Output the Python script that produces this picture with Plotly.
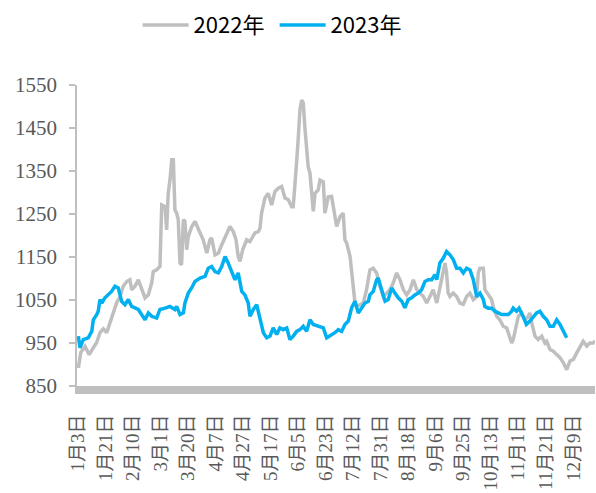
import plotly.graph_objects as go

# Trading-day position (0 = 1月3日) and price readings
day_2022 = [0.2, 1.4, 3.6, 5.7, 7.8, 9.5, 11.2, 12.9, 14.6, 16.3, 18.0, 19.7, 21.4, 23.0, 24.8, 26.4, 27.3, 29.0,
            30.7, 32.4, 34.1, 35.8, 37.5, 38.3, 40.0, 41.7, 42.6, 44.3, 45.1, 45.9, 46.8, 47.7, 48.5, 49.3, 50.2,
            51.0, 51.9, 52.7, 53.6, 54.4, 55.3, 56.1, 57.9, 59.5, 61.2, 62.1, 63.7, 65.5, 67.1, 68.0, 69.7, 71.4,
            73.1, 75.6, 77.3, 79.0, 80.4, 81.5, 82.4, 83.8, 85.8, 87.5, 90.0, 91.7, 92.6, 93.4, 95.1, 96.8, 98.5,
            100.2, 101.9, 103.6, 105.3, 107.0, 108.7, 109.5, 110.4, 111.3, 112.1, 112.9, 113.8, 114.6, 115.5,
            116.4, 117.1, 118.0, 118.9, 119.7, 120.6, 122.2, 123.1, 124.8, 125.6, 127.3, 129.0, 130.7, 131.6,
            133.3, 134.9, 135.8, 136.7, 138.4, 139.2, 140.0, 140.9, 141.8, 143.4, 145.1, 146.8, 148.5, 150.2,
            151.9, 153.6, 155.3, 157.0, 158.7, 160.4, 162.1, 163.8, 165.5, 167.2, 168.9, 170.6, 172.3, 174.0,
            175.7, 177.4, 179.0, 180.7, 182.5, 184.1, 185.8, 186.7, 187.5, 188.3, 189.2, 190.9, 192.6, 194.3,
            196.0, 197.7, 199.4, 201.1, 202.8, 203.6, 204.5, 206.2, 207.0, 208.7, 210.4, 211.2, 213.0, 214.6,
            216.3, 218.1, 219.7, 220.6, 221.4, 223.1, 224.0, 225.7, 227.4, 229.1, 229.9, 230.8, 232.5, 234.1,
            235.9, 237.5, 238.4, 240.1, 241.8, 243.5, 245.2, 246.9, 248.6, 250.3, 252.0, 253.7, 255.3, 257.0,
            258.8, 260.4, 262.1, 263.0]
price_2022 = [892, 928, 942, 923, 939, 951, 974, 983, 974, 997, 1024, 1044, 1058, 1082, 1093, 1097, 1074, 1082,
              1097, 1074, 1055, 1062, 1090, 1116, 1120, 1128, 1271, 1267, 1213, 1298, 1329, 1376, 1376, 1260, 1252,
              1237, 1136, 1132, 1237, 1233, 1167, 1198, 1221, 1233, 1213, 1206, 1190, 1159, 1190, 1194, 1155, 1159,
              1178, 1206, 1221, 1209, 1190, 1151, 1140, 1167, 1190, 1186, 1206, 1209, 1217, 1252, 1287, 1298, 1271,
              1302, 1310, 1314, 1287, 1283, 1267, 1267, 1314, 1376, 1430, 1492, 1515, 1508, 1446,
              1399, 1360, 1345, 1298, 1256, 1298, 1306, 1329, 1325, 1252, 1290, 1291, 1252, 1221,
              1244, 1252, 1190, 1182, 1151, 1113, 1074, 1043, 1035, 1039, 1043, 1074, 1120, 1124,
              1113, 1082, 1058, 1066, 1074, 1090, 1113, 1097, 1074, 1062, 1074, 1097, 1074, 1066,
              1058, 1043, 1058, 1074, 1043, 1082, 1113, 1136, 1113, 1066, 1058, 1066, 1058, 1043,
              1040, 1058, 1066, 1051, 1058, 1113, 1124, 1124, 1074, 1062, 1051, 1035, 1012, 1004,
              989, 985, 966, 950, 958, 989, 1012, 1020, 1004, 1012, 1020, 997, 966, 958,
              966, 950, 954, 935, 931, 923, 916, 904, 888, 908, 912, 927, 939, 954,
              943, 950, 950, 955]

day_2023 = [0.2, 1.0, 2.7, 5.2, 7.0, 7.8, 9.5, 10.3, 11.2, 12.1, 13.7, 15.4, 17.1, 18.8, 20.5, 21.4, 22.2, 23.9,
            25.6, 27.3, 29.0, 30.7, 32.4, 34.1, 35.8, 37.5, 40.0, 41.7, 44.3, 46.8, 49.3, 50.2, 51.9, 53.6, 54.4,
            56.1, 57.8, 59.5, 62.1, 64.6, 66.3, 68.0, 69.7, 71.4, 73.1, 74.8, 76.4, 78.2, 79.9, 81.5, 83.3, 84.9,
            86.6, 87.5, 89.2, 90.9, 92.6, 94.3, 96.0, 97.7, 99.3, 101.1, 102.7, 104.4, 106.2, 107.8, 109.5, 111.2,
            112.9, 114.6, 116.3, 118.0, 119.7, 122.2, 124.8, 126.5, 128.2, 130.7, 132.4, 134.1, 135.8, 137.5,
            139.2, 140.9, 142.6, 144.3, 146.0, 147.7, 148.5, 150.2, 151.9, 152.7, 154.4, 156.2, 157.8, 159.6,
            161.2, 162.9, 164.7, 166.3, 168.0, 169.7, 171.4, 173.1, 174.8, 176.5, 178.2, 179.9, 181.6, 182.5,
            184.1, 185.8, 187.5, 189.2, 190.9, 192.6, 194.3, 196.0, 197.7, 199.4, 201.1, 202.8, 204.5, 206.2,
            207.0, 208.7, 210.4, 212.1, 213.8, 215.5, 217.2, 218.9, 220.6, 221.4, 223.1, 224.4, 226.4, 228.1,
            229.9, 231.6, 233.3, 235.0, 236.7, 238.4, 240.1, 241.8, 243.5, 245.2, 246.9, 248.6]
price_2023 = [966, 939, 958, 962, 977, 1004, 1016, 1024, 1051, 1043, 1055, 1062, 1070, 1082, 1078, 1062, 1047, 1039,
              1051, 1035, 1031, 1028, 1016, 1004, 1020, 1012, 1008, 1028, 1031, 1035, 1028, 1035, 1016, 1020, 1043,
              1066, 1078, 1093, 1101, 1105, 1124, 1128, 1116, 1113, 1128, 1151, 1136, 1116, 1097, 1113, 1070, 1062,
              1043, 1012, 1028, 1039, 1008, 974, 962, 966, 985, 970, 985, 981, 985, 958, 966, 977,
              981, 989, 977, 1004, 993, 989, 985, 962, 966, 974, 981, 977, 993, 1001,
              1032, 1047, 1020, 1032, 1043, 1047, 1062, 1070, 1097, 1101, 1074, 1047, 1051, 1078,
              1066, 1055, 1047, 1032, 1051, 1055, 1062, 1066, 1074, 1093, 1097, 1097, 1109, 1097,
              1136, 1147, 1163, 1155, 1144, 1124, 1124, 1113, 1124, 1120, 1097, 1058, 1066, 1051,
              1035, 1031, 1031, 1024, 1020, 1016, 1016, 1016, 1024, 1031, 1024, 1031, 1012, 993,
              1001, 1012, 1020, 1024, 1012, 1004, 989, 989, 1004, 993, 977, 962]

tick_days = [0, 14, 28, 42, 56, 70, 84, 98, 112, 126, 140, 154, 168, 182, 196, 210, 224, 238, 252]
tick_labels = ["1月3日", "1月21日", "2月10日", "3月1日", "3月20日", "4月7日", "4月27日", "5月17日", "6月5日",
               "6月23日", "7月12日", "7月31日", "8月18日", "9月6日", "9月25日", "10月13日", "11月1日",
               "11月21日", "12月9日"]
y_ticks = [850, 950, 1050, 1150, 1250, 1350, 1450, 1550]

fig = go.Figure()
fig.add_trace(go.Scatter(x=day_2022, y=price_2022, mode="lines", name="2022年",
                         line=dict(color="#BFBFBF", width=3.5)))
fig.add_trace(go.Scatter(x=day_2023, y=price_2023, mode="lines", name="2023年",
                         line=dict(color="#00B0F0", width=3.5)))

fig.update_layout(
    width=596, height=493,
    margin=dict(l=77, r=1, t=85, b=107, autoexpand=False),
    paper_bgcolor="white", plot_bgcolor="white",
    showlegend=True,
    legend=dict(orientation="h", x=0.117, xanchor="left", y=1.199, yanchor="middle",
                itemwidth=46, entrywidth=76, entrywidthmode="pixels",
                font=dict(family="Noto Sans CJK SC", size=22, color="#000000"),
                bgcolor="rgba(0,0,0,0)"),
    xaxis=dict(range=[-0.5, 263.0], tickmode="array", tickvals=tick_days, ticktext=tick_labels,
               tickangle=-90, showgrid=False, zeroline=False, showline=True, linecolor="#BFBFBF",
               linewidth=8, ticks="", ticklabelstandoff=13, automargin=False,
               tickfont=dict(family="Liberation Serif, Noto Sans CJK SC", size=19, color="#595959")),
    yaxis=dict(range=[850, 1550], tickmode="array", tickvals=y_ticks, showgrid=False, zeroline=False,
               showline=True, linecolor="#BFBFBF", linewidth=1.5, ticks="outside", ticklen=6,
               tickcolor="#BFBFBF", tickwidth=1.5, ticklabelstandoff=8, automargin=False,
               tickfont=dict(family="Liberation Serif", size=21, color="#595959")),
)

fig.write_html("out.html", config={"displayModeBar": False},
               post_script="document.body.style.margin='0';")
